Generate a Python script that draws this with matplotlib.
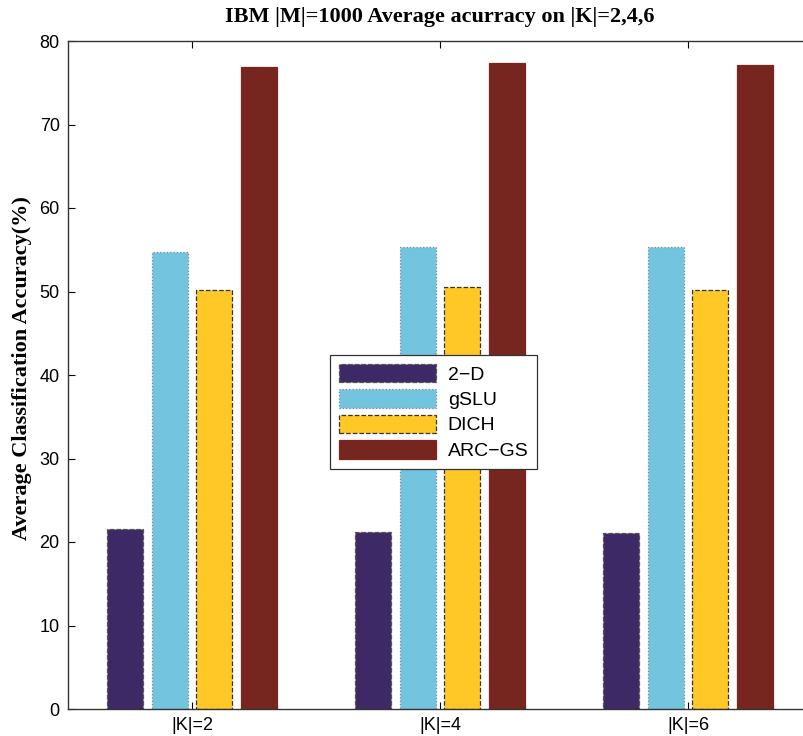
import numpy as np
import matplotlib
matplotlib.use('Agg')
import matplotlib.pyplot as plt

groups = ['|K|=2', '|K|=4', '|K|=6']
methods = ['2\u2212D', 'gSLU', 'DICH', 'ARC\u2212GS']
acc_2d = [21.5, 21.2, 21.1]
acc_gslu = [54.7, 55.3, 55.3]
acc_dich = [50.2, 50.5, 50.2]
acc_arcgs = [76.9, 77.4, 77.1]

colors = ['#3d2966', '#73c4de', '#ffc826', '#76261f']
styles = ['--', ':', '--', '-']
edges = ['#555555', '#7a8a99', '#333333', '#76261f']

fig = plt.figure(figsize=(8.04, 7.36), dpi=100)
# axes run past the right edge, as in the original crop
ax = fig.add_axes([68/804, 27/736, 744/804, 668/736])

x = np.arange(1, len(groups) + 1)
offsets = [-0.272, -0.09, 0.09, 0.272]
width = 0.145
for vals, name, c, ls, ec, off in zip([acc_2d, acc_gslu, acc_dich, acc_arcgs],
                                      methods, colors, styles, edges, offsets):
    ax.bar(x + off, vals, width, color=c, edgecolor=ec, linestyle=ls,
           linewidth=0.9, label=name)

ax.set_xlim(0.5, 3.5)
ax.set_ylim(0, 80)
ax.set_xticks(x)
ax.set_xticklabels(groups)
ax.set_yticks(range(0, 81, 10))
ax.tick_params(direction='in', top=True, right=True, length=5,
               labelsize=13, pad=6)
for lab in ax.get_xticklabels() + ax.get_yticklabels():
    lab.set_family('Liberation Sans')
for sp in ax.spines.values():
    sp.set_linewidth(1.0)
    sp.set_color('#333333')

ax.set_title('IBM |M|=1000 Average acurracy on |K|=2,4,6',
             family='Liberation Serif', fontweight='bold', fontsize=16, pad=14)
ax.set_ylabel('Average Classification Accuracy(%)',
              family='Liberation Serif', fontweight='bold', fontsize=16)
ax.yaxis.set_label_coords(-0.048, 0.51)

leg = ax.legend(loc='upper left', bbox_to_anchor=((330 - 68) / 744, (709 - 355) / 668),
                prop={'family': 'Liberation Sans', 'size': 14},
                fancybox=False, framealpha=1, edgecolor='#333333',
                handlelength=5.0, handleheight=1.1, labelspacing=0.28,
                borderpad=0.45, handletextpad=0.6, borderaxespad=0)
leg.get_frame().set_linewidth(0.9)

fig.savefig('out.png', dpi=100)
